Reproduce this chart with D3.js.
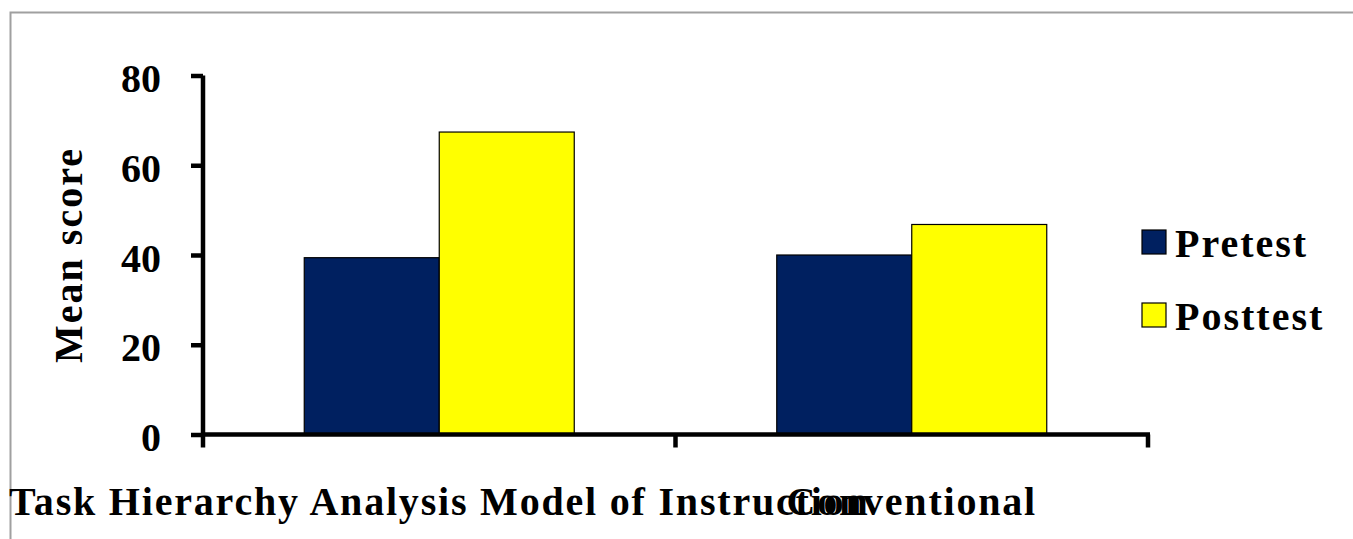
<!DOCTYPE html>
<html>
<head>
<meta charset="utf-8">
<script src="https://cdn.jsdelivr.net/npm/d3@7"></script>
<style>
  html, body { margin: 0; padding: 0; background: #fff; overflow: hidden; }
  text { font-family: "Liberation Serif", "Times New Roman", serif; font-weight: bold; }
</style>
</head>
<body>
<script>
  const categories = ['Task Hierarchy Analysis Model of Instruction', 'Conventional'];
  const seriesNames = ['Pretest', 'Posttest'];
  const pretest = [39.4, 40.0];
  const posttest = [67.4, 46.8];
  const yTicks = [0, 20, 40, 60, 80];
  const colors = ['#002060', '#ffff00'];

  const width = 1353;
  const height = 539;

  const svg = d3.select('body')
          .append('svg')
          .attr('width', width)
          .attr('height', height);

  // outer frame
  svg.append('rect')
          .attr('x', 10.5)
          .attr('y', 12.5)
          .attr('width', 1400)
          .attr('height', 600)
          .attr('fill', 'none')
          .attr('stroke', '#a0a0a0')
          .attr('stroke-width', 2);

  const x0 = d3.scaleBand()
          .domain(categories)
          .range([203, 1148])
          .paddingInner(0)
          .paddingOuter(0);

  const x1 = d3.scaleBand()
          .domain(seriesNames)
          .range([0, x0.bandwidth()])
          .paddingInner(0)
          .paddingOuter(0.75);

  const y = d3.scaleLinear()
          .domain([0, 80])
          .range([434.5, 75.5]);

  const rows = categories.map((c, i) => ({ cat: c, values: [pretest[i], posttest[i]] }));

  const group = svg.append('g')
          .selectAll('g')
          .data(rows)
          .enter()
          .append('g')
          .attr('transform', d => `translate(${x0(d.cat)},0)`);

  group.selectAll('rect')
          .data(d => d.values.map((v, j) => ({ key: seriesNames[j], value: v, j })))
          .enter()
          .append('rect')
          .attr('x', d => x1(d.key))
          .attr('y', d => y(d.value))
          .attr('width', x1.bandwidth())
          .attr('height', d => y(0) - y(d.value))
          .attr('fill', d => colors[d.j])
          .attr('stroke', '#000')
          .attr('stroke-width', 1.2);

  // y axis
  const yAxis = svg.append('g')
          .attr('transform', 'translate(203,0)')
          .call(d3.axisLeft(y).tickValues(yTicks).tickSize(12).tickPadding(26));
  yAxis.select('.domain').attr('stroke', '#000').attr('stroke-width', 4.5)
          .attr('d', `M0,${y(80)}V${y(0)}`);
  yAxis.selectAll('.tick line').attr('stroke', '#000').attr('stroke-width', 4.5);
  yAxis.selectAll('.tick text')
          .attr('font-size', '40px')
          .attr('fill', '#000')
          .attr('dy', '0.4em')
          .attr('dx', '-0.1em');

  // x axis
  const xAxis = svg.append('g')
          .attr('transform', `translate(0,${y(0)})`);
  xAxis.append('line')
          .attr('x1', x0.range()[0] - 2)
          .attr('x2', x0.range()[1] + 2)
          .attr('stroke', '#000')
          .attr('stroke-width', 4.5);
  const xTickPos = categories.map(c => x0(c)).concat([x0.range()[1]]);
  xAxis.selectAll('line.xt')
          .data(xTickPos)
          .enter()
          .append('line')
          .attr('class', 'xt')
          .attr('x1', d => d)
          .attr('x2', d => d)
          .attr('y1', 0)
          .attr('y2', 13)
          .attr('stroke', '#000')
          .attr('stroke-width', 4.5);
  // category labels overlap in the original too
  xAxis.selectAll('text')
          .data(categories)
          .enter()
          .append('text')
          .attr('x', d => x0(d) + x0.bandwidth() / 2)
          .attr('y', 80)
          .attr('text-anchor', 'middle')
          .attr('font-size', '40px')
          .attr('letter-spacing', '1.8px')
          .attr('fill', '#000')
          .text(d => d);

  // y title
  svg.append('text')
          .attr('transform', `translate(82,${(y(0) + y(80)) / 2}) rotate(-90)`)
          .attr('text-anchor', 'middle')
          .attr('font-size', '40px')
          .attr('letter-spacing', '2px')
          .attr('fill', '#000')
          .text('Mean score');

  // legend
  const legend = svg.append('g')
          .selectAll('g')
          .data(seriesNames)
          .enter()
          .append('g')
          .attr('transform', (d, i) => `translate(1142,${230 + i * 73})`);
  legend.append('rect')
          .attr('width', 24)
          .attr('height', 24)
          .attr('fill', (d, i) => colors[i])
          .attr('stroke', '#000')
          .attr('stroke-width', 1.2);
  legend.append('text')
          .attr('x', 33)
          .attr('y', 27)
          .attr('font-size', '40px')
          .attr('letter-spacing', '2px')
          .attr('fill', '#000')
          .text(d => d);
</script>
</body>
</html>
